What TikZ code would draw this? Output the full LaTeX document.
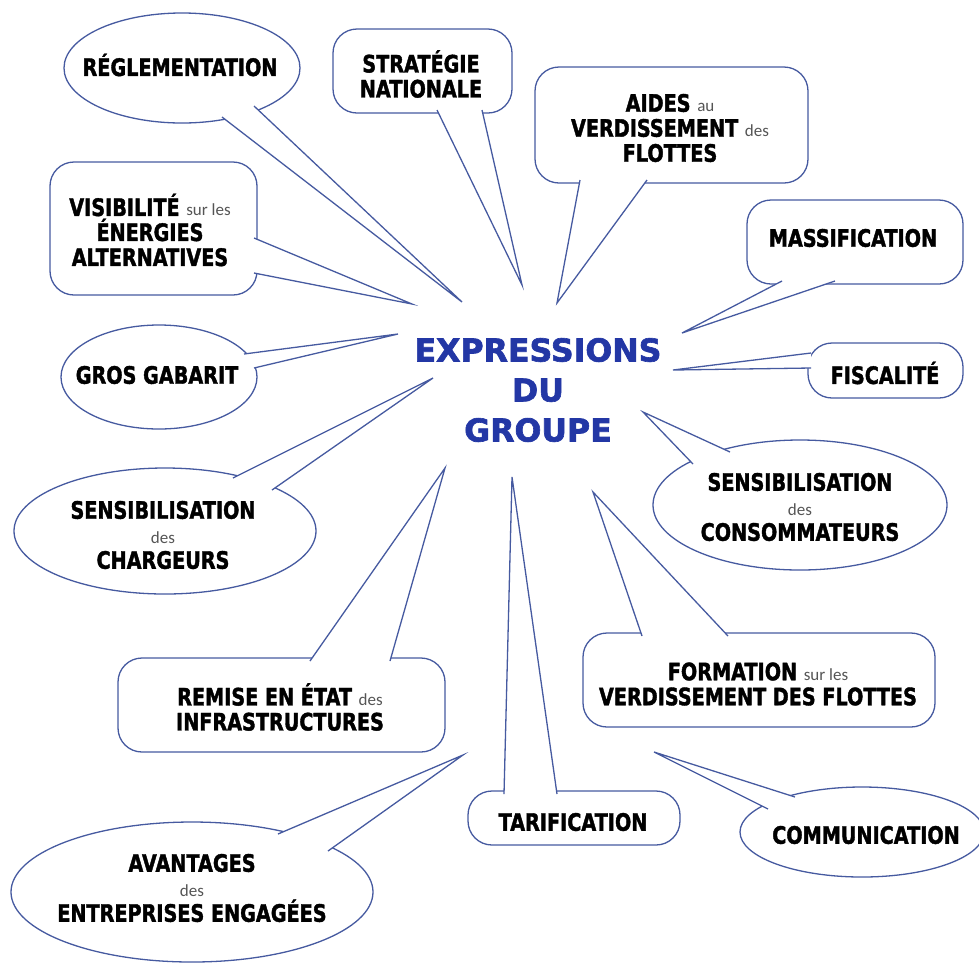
\documentclass[tikz,border=0pt]{standalone}
\usepackage{fontspec}
\usetikzlibrary{shapes.geometric}
\newfontfamily\cf[FakeStretch=0.8,FakeBold=1.6]{DejaVu Sans}
\newfontfamily\tf[FakeBold=2]{DejaVu Sans}
\newfontfamily\smf{Carlito}
\definecolor{edge}{RGB}{70,90,160}
\definecolor{titleblue}{RGB}{35,55,165}
\definecolor{smallgray}{RGB}{85,85,85}
\newcommand\sw[1]{{\smf\mdseries\fontsize{8.5}{12.5}\selectfont\color{smallgray}#1}}
\newcommand\pointer[3]{%
  \fill[white] (#1) -- (#2) -- (#3) -- cycle;
  \draw[ptr] (#1) -- (#2) -- (#3);}
\begin{document}
\begin{tikzpicture}[x=0.5pt,y=-0.5pt,
  bub/.style={draw=edge, line width=0.65pt, fill=white},
  box/.style={bub, rectangle, rounded corners=12pt, inner sep=0pt},
  ell/.style={bub, ellipse, inner sep=0pt},
  lbl/.style={align=center, inner sep=0pt, font=\cf\bfseries\fontsize{12}{12.5}\selectfont},
  ptr/.style={draw=edge, line width=0.65pt, line join=miter}]
\useasboundingbox (0,0) rectangle (979,965);
\clip (0,0) rectangle (979,965);

% tips
\coordinate (reg-tip) at (462,302);
\coordinate (strat-tip) at (522,285);
\coordinate (aides-tip) at (557,303);
\coordinate (mass-tip) at (682,333);
\coordinate (vis-tip) at (412,304);
\coordinate (gros-tip) at (398,334);
\coordinate (charg-tip) at (433,378);
\coordinate (fisc-tip) at (673,370);
\coordinate (cons-tip) at (643,412);
\coordinate (remise-tip) at (445,468);
\coordinate (avant-tip) at (463,755);
\coordinate (tarif-tip) at (512,477);
\coordinate (form-tip) at (593,492);
\coordinate (comm-tip) at (654,752);

% RÉGLEMENTATION
\node[ell, minimum width=118pt, minimum height=55pt] (reg) at (182,68) {};
\coordinate (reg-a) at (254,106); \coordinate (reg-b) at (222,117);
\pointer{reg-a}{reg-tip}{reg-b}
\node[lbl] (reg-t) at (180,65) {RÉGLEMENTATION};

% STRATÉGIE NATIONALE
\node[box, minimum width=89.5pt, minimum height=42pt] (strat) at (422.5,71) {};
\coordinate (strat-a) at (437,110); \coordinate (strat-b) at (482,110);
\pointer{strat-a}{strat-tip}{strat-b}
\node[lbl] (strat-t) at (421,74) {STRATÉGIE\\NATIONALE};

% AIDES
\node[box, minimum width=136.5pt, minimum height=58pt] (aides) at (671.5,125) {};
\coordinate (aides-a) at (580,180); \coordinate (aides-b) at (647,180);
\pointer{aides-a}{aides-tip}{aides-b}
\node[lbl] (aides-t) at (670,128) {AIDES \sw{au}\\VERDISSEMENT \sw{des}\\FLOTTES};

% MASSIFICATION
\node[box, minimum width=108pt, minimum height=42pt] (mass) at (855,242) {};
\coordinate (mass-a) at (782,281); \coordinate (mass-b) at (835,281);
\pointer{mass-a}{mass-tip}{mass-b}
\node[lbl] (mass-t) at (853,238) {MASSIFICATION};

% VISIBILITÉ
\node[box, minimum width=103.5pt, minimum height=66.5pt] (vis) at (153.5,228.5) {};
\coordinate (vis-a) at (254,238); \coordinate (vis-b) at (254,273);
\pointer{vis-a}{vis-tip}{vis-b}
\node[lbl] (vis-t) at (150,230) {VISIBILITÉ \sw{sur les}\\ÉNERGIES\\ALTERNATIVES};

% GROS GABARIT
\node[ell, minimum width=98pt, minimum height=52pt] (gros) at (159,377) {};
\coordinate (gros-a) at (244,354); \coordinate (gros-b) at (254,368);
\pointer{gros-a}{gros-tip}{gros-b}
\node[lbl] (gros-t) at (157,375) {GROS GABARIT};

% SENSIBILISATION des CHARGEURS
\node[ell, minimum width=151pt, minimum height=63pt] (charg) at (165,531) {};
\coordinate (charg-a) at (233,478); \coordinate (charg-b) at (272,490);
\pointer{charg-a}{charg-tip}{charg-b}
\node[lbl] (charg-t) at (163,535) {SENSIBILISATION\\\sw{des}\\CHARGEURS};

% FISCALITÉ
\node[box, minimum width=77.5pt, minimum height=27.5pt] (fisc) at (885.5,370.5) {};
\coordinate (fisc-a) at (811,353); \coordinate (fisc-b) at (811,368);
\pointer{fisc-a}{fisc-tip}{fisc-b}
\node[lbl] (fisc-t) at (885,373) {FISCALITÉ};

% SENSIBILISATION des CONSOMMATEURS
\node[ell, minimum width=147pt, minimum height=65pt] (cons) at (800,505) {};
\coordinate (cons-a) at (730,452); \coordinate (cons-b) at (693,464);
\pointer{cons-a}{cons-tip}{cons-b}
\node[lbl] (cons-t) at (800,507) {SENSIBILISATION\\\sw{des}\\CONSOMMATEURS};

% REMISE EN ÉTAT
\node[box, minimum width=163.5pt, minimum height=47pt] (remise) at (281.5,705) {};
\coordinate (remise-a) at (310,661); \coordinate (remise-b) at (390,661);
\pointer{remise-a}{remise-tip}{remise-b}
\node[lbl] (remise-t) at (280,707) {REMISE EN ÉTAT \sw{des}\\INFRASTRUCTURES};

% AVANTAGES
\node[ell, minimum width=181pt, minimum height=70pt] (avant) at (192,892) {};
\coordinate (avant-a) at (278,834); \coordinate (avant-b) at (328,851);
\pointer{avant-a}{avant-tip}{avant-b}
\node[lbl] (avant-t) at (192,888) {AVANTAGES\\\sw{des}\\ENTREPRISES ENGAGÉES};

% TARIFICATION
\node[box, minimum width=106pt, minimum height=27pt] (tarif) at (574,818) {};
\coordinate (tarif-a) at (504,794); \coordinate (tarif-b) at (557,794);
\pointer{tarif-a}{tarif-tip}{tarif-b}
\node[lbl] (tarif-t) at (573,822) {TARIFICATION};

% FORMATION
\node[box, minimum width=176pt, minimum height=47pt] (form) at (759,680) {};
\coordinate (form-a) at (642,636); \coordinate (form-b) at (728,636);
\pointer{form-a}{form-tip}{form-b}
\node[lbl] (form-t) at (758,684) {FORMATION \sw{sur les}\\VERDISSEMENT DES FLOTTES};

% COMMUNICATION
\node[ell, minimum width=122pt, minimum height=45pt] (comm) at (862,832) {};
\coordinate (comm-a) at (768,809); \coordinate (comm-b) at (795,797);
\pointer{comm-a}{comm-tip}{comm-b}
\node[lbl] (comm-t) at (866,835) {COMMUNICATION};

% title
\node[align=center, inner sep=0pt, text=titleblue,
      font=\tf\bfseries\fontsize{15.8}{20}\selectfont] (title) at (538,390)
      {EXPRESSIONS\\DU\\GROUPE};
\end{tikzpicture}
\end{document}
